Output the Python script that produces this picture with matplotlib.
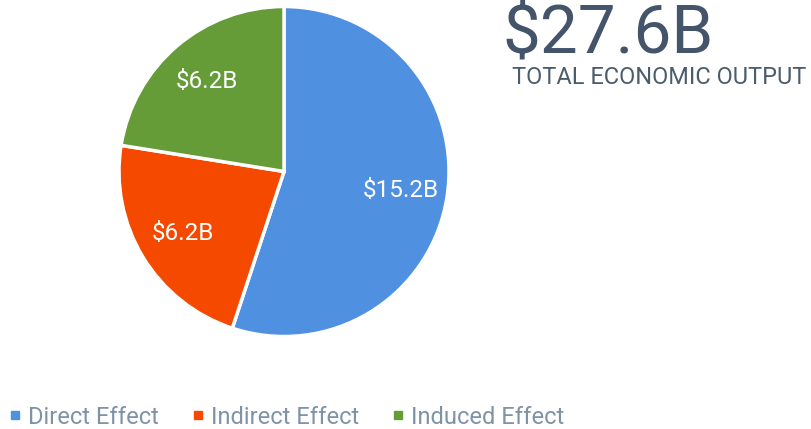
import matplotlib
matplotlib.use("Agg")
import matplotlib.pyplot as plt
from matplotlib.lines import Line2D

categories = ["Direct Effect", "Indirect Effect", "Induced Effect"]
values = [15.2, 6.2, 6.2]
colors = ["#4F90E0", "#F54900", "#659C38"]
total_label = "$27.6B"
subtitle = "TOTAL ECONOMIC OUTPUT"

FONT = ["Roboto", "DejaVu Sans"]
plt.rcParams['font.family'] = FONT

W, H = 811, 429
fig = plt.figure(figsize=(W/100, H/100), dpi=100)
cx, cy, r = 284, 171.5, 165
ax = fig.add_axes([(cx - r)/W, 1 - (cy + r)/H, 2*r/W, 2*r/H])
total = sum(values)
wedges, texts, autotexts = ax.pie(
    values, colors=colors, startangle=90, counterclock=False,
    wedgeprops=dict(edgecolor="white", linewidth=2.5),
    autopct=lambda p: f"${p*total/100:.1f}B", pctdistance=0.72,
    textprops=dict(color="white", fontsize=17.5))
ax.set_xlim(-1.0, 1.0)
ax.set_ylim(-1.0, 1.0)
ax.set_aspect('auto')

fig.text(502/W, 1 - 54/H, total_label, fontsize=48.5, color="#44546A", ha="left", va="baseline")
fig.text(512/W, 1 - 84/H, subtitle, fontsize=16.9, color="#4B5C6B", ha="left", va="baseline")

handles = [Line2D([], [], marker='s', linestyle='none', markersize=6,
                  markerfacecolor=c, markeredgecolor=c) for c in colors]
leg = fig.legend(handles, categories, loc="center left", bbox_to_anchor=(8/W, 1 - 417/H),
                 ncol=3, frameon=False, handlelength=0.6, handletextpad=0.25,
                 columnspacing=1.35, fontsize=17, borderpad=0, borderaxespad=0)
for t in leg.get_texts():
    t.set_color("#7F93A8")

fig.savefig("out.png", dpi=100)
